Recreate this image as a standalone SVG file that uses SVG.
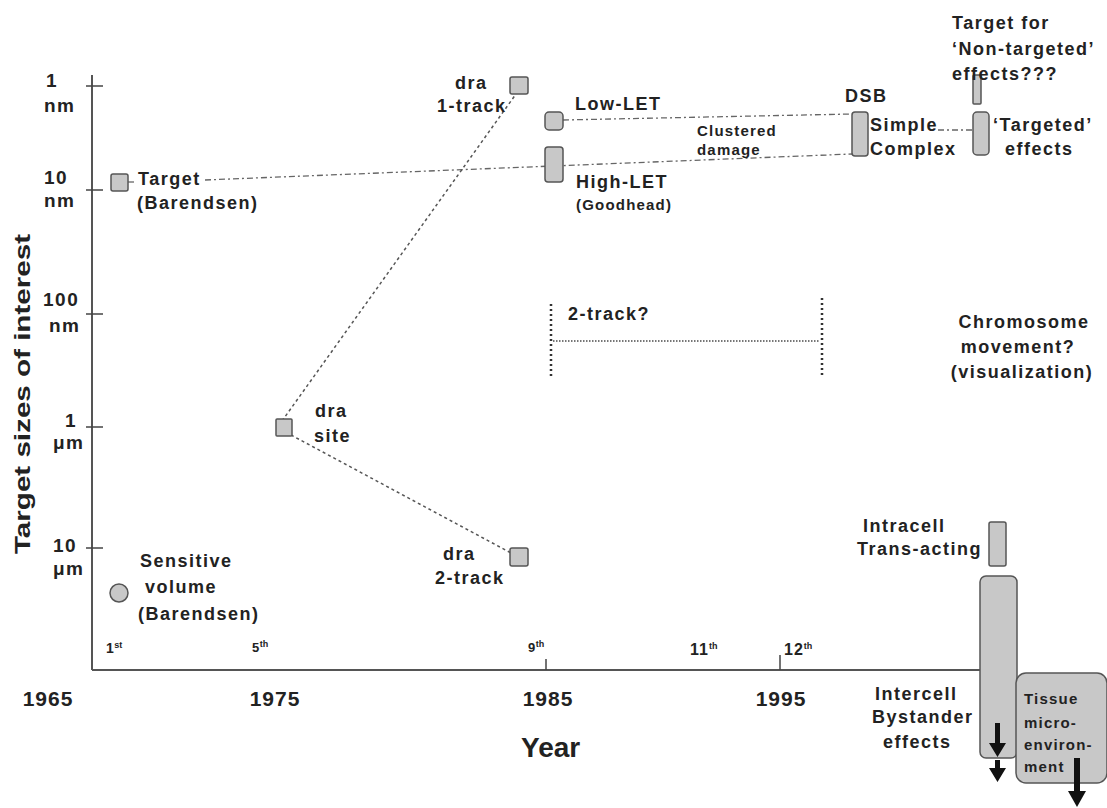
<svg xmlns="http://www.w3.org/2000/svg" width="1107" height="808" viewBox="0 0 1107 808">
<style>
text{font-family:"Liberation Sans",Arial,sans-serif;font-weight:bold;fill:#222;font-size:18px;letter-spacing:1.5px}
.sm{font-size:15px;letter-spacing:1.2px}
.yl{font-size:19px;letter-spacing:1.5px}
.yr{font-size:21px;letter-spacing:1px}
.ax{stroke:#555;stroke-width:2;fill:none}
.tk{stroke:#444;stroke-width:1.5}
.nd{fill:#c8c8c8;stroke:#555;stroke-width:1.5}
.dd{stroke:#666;stroke-width:1.3;fill:none;stroke-dasharray:6 3 2 3}
.dt{stroke:#555;stroke-width:1.5;fill:none;stroke-dasharray:3 3}
.vd{stroke:#333;stroke-width:2.5;fill:none;stroke-dasharray:2 3}
.hd{stroke:#777;stroke-width:2;fill:none;stroke-dasharray:1.5 1.5}
.sup{font-size:9px;letter-spacing:0}
.arr{fill:#111}
</style>
<rect width="1107" height="808" fill="#fff"/>
<g id="axes">
<line class="ax" x1="92" y1="75" x2="92" y2="670"/>
<line class="ax" x1="92" y1="670" x2="981" y2="670"/>
<line class="tk" x1="86" y1="86" x2="103" y2="86"/>
<line class="tk" x1="86" y1="190" x2="103" y2="190"/>
<line class="tk" x1="86" y1="314" x2="103" y2="314"/>
<line class="tk" x1="86" y1="427" x2="103" y2="427"/>
<line class="tk" x1="86" y1="548" x2="103" y2="548"/>
<line class="tk" x1="546" y1="659" x2="546" y2="670"/>
<line class="tk" x1="780" y1="655" x2="780" y2="670"/>
<text class="yl" x="46" y="87">1</text>
<text class="yl" x="44" y="112">nm</text>
<text class="yl" x="44" y="184">10</text>
<text class="yl" x="44" y="207">nm</text>
<text class="yl" x="43" y="306">100</text>
<text class="yl" x="49" y="332">nm</text>
<text class="yl" x="65" y="427">1</text>
<text class="yl" x="53" y="449">μm</text>
<text class="yl" x="53" y="552">10</text>
<text class="yl" x="53" y="575">μm</text>
<text transform="translate(30,394) rotate(-90)" text-anchor="middle" style="font-size:22px;letter-spacing:0" textLength="320" lengthAdjust="spacingAndGlyphs">Target sizes of interest</text>
<text x="106" y="653" style="font-size:14px;letter-spacing:0.5px">1<tspan class="sup" dy="-5">st</tspan></text>
<text x="252" y="652" style="font-size:13px;letter-spacing:0.5px">5<tspan class="sup" dy="-5">th</tspan></text>
<text x="528" y="652" style="font-size:13px;letter-spacing:0.5px">9<tspan class="sup" dy="-5">th</tspan></text>
<text x="690" y="655" style="font-size:16px;letter-spacing:1px">11<tspan class="sup" dy="-6">th</tspan></text>
<text x="784" y="655" style="font-size:16px;letter-spacing:1px">12<tspan class="sup" dy="-6">th</tspan></text>
<text class="yr" x="48" y="706" text-anchor="middle">1965</text>
<text class="yr" x="275" y="706" text-anchor="middle">1975</text>
<text class="yr" x="548" y="706" text-anchor="middle">1985</text>
<text class="yr" x="781" y="706" text-anchor="middle">1995</text>
<text x="521" y="757" style="font-size:28px;letter-spacing:0">Year</text>
</g>
<g id="connectors">
<line class="dd" x1="128" y1="182" x2="137" y2="182"/>
<line class="dd" x1="205" y1="180" x2="852" y2="154"/>
<line class="dd" x1="563" y1="120" x2="852" y2="114"/>
<line class="dd" x1="938" y1="130" x2="973" y2="130"/>
<line class="dt" x1="282" y1="421" x2="516" y2="94"/>
<line class="dt" x1="291" y1="435" x2="511" y2="553"/>
<line class="vd" x1="551" y1="304" x2="551" y2="376"/>
<line class="vd" x1="822" y1="298" x2="822" y2="376"/>
<line class="hd" x1="553" y1="341" x2="820" y2="341"/>
</g>
<g id="target-barendsen">
<rect class="nd" x="111" y="174" width="17" height="17" rx="2"/>
<text x="138" y="185">Target</text>
<text x="137" y="209">(Barendsen)</text>
</g>
<g id="sensitive-volume">
<circle class="nd" cx="119" cy="593" r="9"/>
<text x="140" y="567">Sensitive</text>
<text x="145" y="593">volume</text>
<text x="138" y="620">(Barendsen)</text>
</g>
<g id="dra-1track">
<rect class="nd" x="510" y="77" width="18" height="17" rx="2"/>
<text x="455" y="89">dra</text>
<text x="437" y="112">1-track</text>
</g>
<g id="dra-site">
<rect class="nd" x="276" y="419" width="16" height="17" rx="1"/>
<text x="315" y="417">dra</text>
<text x="314" y="442">site</text>
</g>
<g id="dra-2track">
<rect class="nd" x="510" y="548" width="18" height="18" rx="2"/>
<text x="443" y="560">dra</text>
<text x="435" y="584">2-track</text>
</g>
<g id="low-let">
<rect class="nd" x="545" y="112" width="18" height="18" rx="4"/>
<text x="575" y="110">Low-LET</text>
</g>
<g id="high-let">
<rect class="nd" x="545" y="147" width="18" height="35" rx="3"/>
<text x="576" y="188">High-LET</text>
<text x="576" y="210" class="sm">(Goodhead)</text>
</g>
<g id="clustered">
<text x="697" y="136" class="sm">Clustered</text>
<text x="697" y="155" class="sm">damage</text>
</g>
<g id="dsb">
<rect class="nd" x="852" y="112" width="16" height="44" rx="3"/>
<text x="845" y="102">DSB</text>
<text x="870" y="131">Simple</text>
<text x="870" y="155">Complex</text>
</g>
<g id="targeted">
<rect class="nd" x="973" y="112" width="16" height="43" rx="4"/>
<text x="993" y="131">‘Targeted’</text>
<text x="1005" y="155">effects</text>
</g>
<g id="nontargeted">
<rect class="nd" x="973" y="75" width="8" height="29" rx="1"/>
<text x="952" y="29">Target for</text>
<text x="952" y="55">‘Non-targeted’</text>
<text x="952" y="80">effects???</text>
</g>
<g id="two-track">
<text x="568" y="320">2-track?</text>
</g>
<g id="chromosome">
<text x="1024" y="328" text-anchor="middle">Chromosome</text>
<text x="1018" y="353" text-anchor="middle">movement?</text>
<text x="1022" y="378" text-anchor="middle">(visualization)</text>
</g>
<g id="intracell">
<rect class="nd" x="989" y="522" width="17" height="44" rx="2"/>
<text x="863" y="532">Intracell</text>
<text x="857" y="555">Trans-acting</text>
</g>
<g id="intercell">
<rect class="nd" x="980" y="576" width="37" height="182" rx="6"/>
<text x="875" y="700">Intercell</text>
<text x="872" y="723">Bystander</text>
<text x="883" y="748">effects</text>
<path class="arr" d="M995 723 h5 v20 h6 l-8.5 14 l-8.5 -14 h6 z"/>
<path class="arr" d="M995 760 h5 v8 h6 l-8.5 14 l-8.5 -14 h6 z"/>
</g>
<g id="tissue">
<rect class="nd" x="1016" y="673" width="91" height="110" rx="10"/>
<text x="1024" y="704" class="sm">Tissue</text>
<text x="1024" y="728" class="sm">micro-</text>
<text x="1024" y="750" class="sm">environ-</text>
<text x="1024" y="772" class="sm">ment</text>
<path class="arr" d="M1074 758 h6 v33 h6 l-9 16 l-9 -16 h6 z"/>
</g>
</svg>
